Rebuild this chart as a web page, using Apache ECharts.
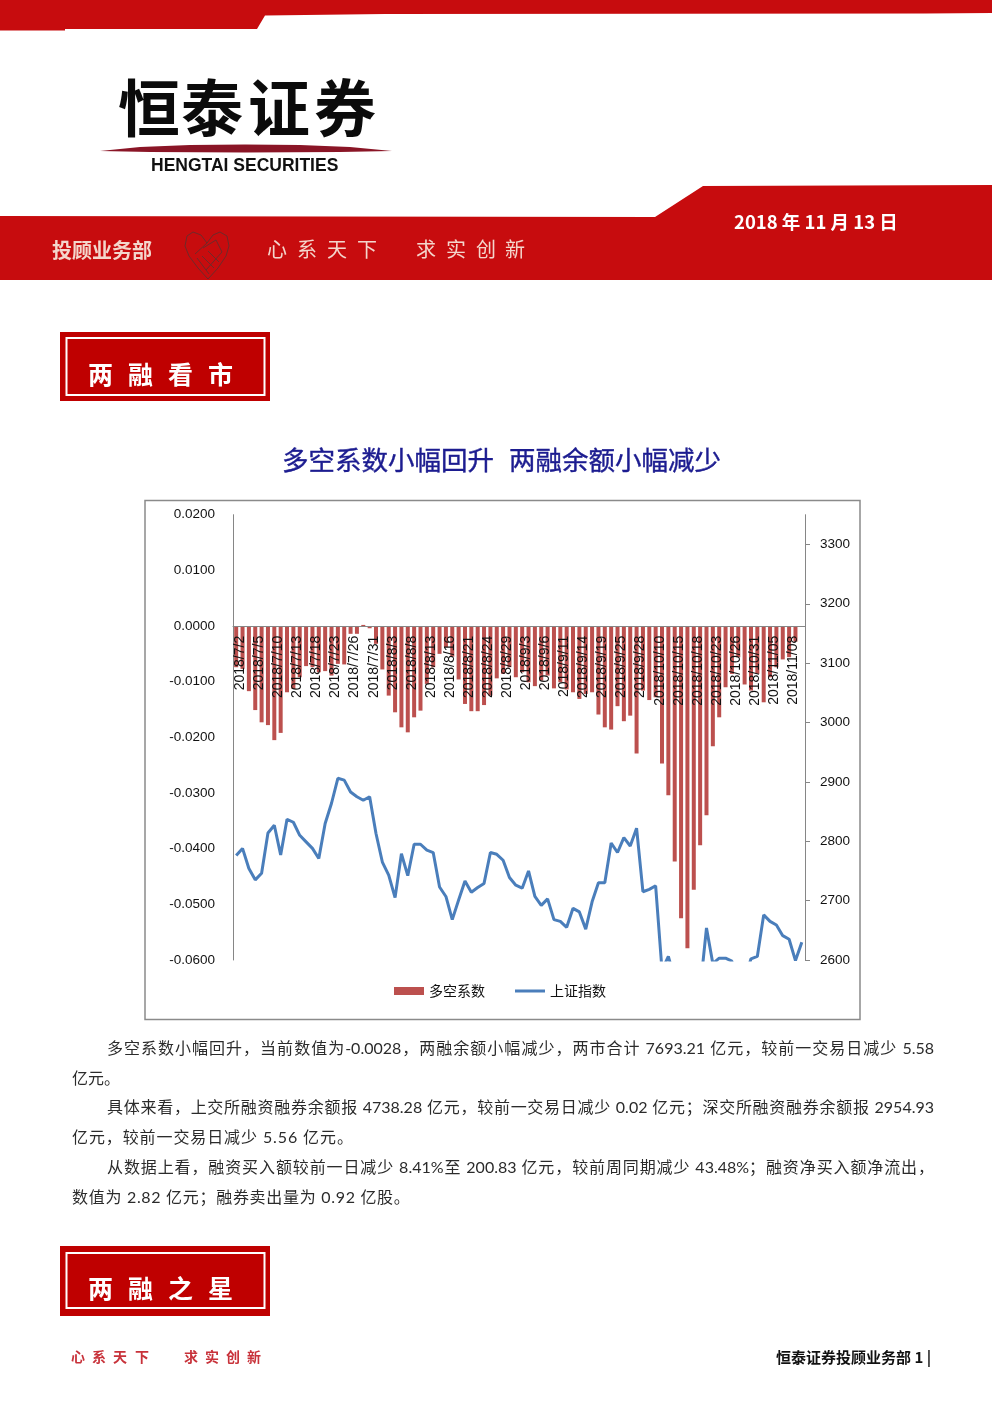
<!DOCTYPE html>
<html><head><meta charset="utf-8">
<script src="https://cdn.jsdelivr.net/npm/echarts@6/dist/echarts.min.js"></script>
<style>
html,body{margin:0;padding:0;background:#fff}
#page{position:relative;width:992px;height:1403px;overflow:hidden}
#chart{position:absolute;left:0;top:0;width:992px;height:1403px}
.ln{position:absolute;height:30px;line-height:30px;font-size:16px;color:#2b2b2b;white-space:nowrap;
font-family:Lato,"Noto Sans CJK SC",sans-serif}
.just{white-space:normal;text-align:justify;text-align-last:justify}
</style></head><body>
<div id="page"><div id="chart"></div>
<div class="ln just" style="left:107px;top:1033px;width:827px">多空系数小幅回升，当前数值为-0.0028，两融余额小幅减少，两市合计 7693.21 亿元，较前一交易日减少 5.58</div>
<div class="ln" style="left:72px;top:1063px">亿元。</div>
<div class="ln just" style="left:107px;top:1092px;width:827px">具体来看，上交所融资融券余额报 4738.28 亿元，较前一交易日减少 0.02 亿元；深交所融资融券余额报 2954.93</div>
<div class="ln" style="left:72px;top:1122px;letter-spacing:.9px">亿元，较前一交易日减少 5.56 亿元。</div>
<div class="ln just" style="left:107px;top:1152px;width:827px">从数据上看，融资买入额较前一日减少 8.41%至 200.83 亿元，较前周同期减少 43.48%；融资净买入额净流出，</div>
<div class="ln" style="left:72px;top:1182px;letter-spacing:.7px">数值为 2.82 亿元；融券卖出量为 0.92 亿股。</div>
</div>
<script>
const dates = ["2018/7/2","2018/7/3","2018/7/4","2018/7/5","2018/7/6","2018/7/9","2018/7/10","2018/7/11","2018/7/12","2018/7/13","2018/7/16","2018/7/17","2018/7/18","2018/7/19","2018/7/20","2018/7/23","2018/7/24","2018/7/25","2018/7/26","2018/7/27","2018/7/30","2018/7/31",
"2018/8/1","2018/8/2","2018/8/3","2018/8/6","2018/8/7","2018/8/8","2018/8/9","2018/8/10","2018/8/13","2018/8/14","2018/8/15","2018/8/16","2018/8/17","2018/8/20","2018/8/21","2018/8/22","2018/8/23","2018/8/24","2018/8/27","2018/8/28","2018/8/29","2018/8/30","2018/8/31",
"2018/9/3","2018/9/4","2018/9/5","2018/9/6","2018/9/7","2018/9/10","2018/9/11","2018/9/12","2018/9/13","2018/9/14","2018/9/17","2018/9/18","2018/9/19","2018/9/20","2018/9/21","2018/9/25","2018/9/26","2018/9/27","2018/9/28",
"2018/10/8","2018/10/9","2018/10/10","2018/10/11","2018/10/12","2018/10/15","2018/10/16","2018/10/17","2018/10/18","2018/10/19","2018/10/22","2018/10/23","2018/10/24","2018/10/25","2018/10/26","2018/10/29","2018/10/30","2018/10/31",
"2018/11/1","2018/11/2","2018/11/05","2018/11/6","2018/11/7","2018/11/08","2018/11/9","2018/11/12"];
const longShort = [-0.0074,-0.0077,-0.0117,-0.0151,-0.0173,-0.0178,-0.0205,-0.0192,-0.0119,-0.0113,-0.0092,-0.0072,-0.0074,-0.0083,-0.0081,-0.0089,-0.0068,-0.0069,-0.0014,-0.0014,0.0002,-0.0004,-0.0032,-0.0078,-0.0125,-0.0155,-0.0182,-0.0191,-0.0164,-0.0152,-0.0104,-0.0074,-0.0050,-0.0038,-0.0055,-0.0096,-0.0140,-0.0153,-0.0153,-0.0142,-0.0125,-0.0094,-0.0086,-0.0074,-0.0092,-0.0083,-0.0101,-0.0108,-0.0098,-0.0089,-0.0112,-0.0101,-0.0114,-0.0119,-0.0131,-0.0122,-0.0119,-0.0159,-0.0182,-0.0186,-0.0144,-0.0171,-0.0161,-0.0229,-0.0116,-0.0133,-0.0128,-0.0247,-0.0304,-0.0423,-0.0525,-0.0579,-0.0474,-0.0394,-0.0340,-0.0216,-0.0164,-0.0110,-0.0086,-0.0056,-0.0105,-0.0116,-0.0086,-0.0137,-0.0092,-0.0074,-0.0060,-0.0056,-0.0028,null];
const shIndex = [2776,2788,2754,2735,2746,2814,2827,2777,2837,2832,2810,2799,2788,2771,2830,2864,2906,2903,2883,2875,2869,2875,2813,2765,2743,2705,2779,2742,2795,2795,2785,2781,2723,2707,2668,2701,2733,2714,2722,2729,2781,2778,2768,2739,2726,2721,2750,2707,2692,2703,2668,2665,2655,2687,2681,2652,2698,2730,2730,2797,2781,2806,2792,2822,2715,2719,2725,2583,2606,2568,2546,2561,2486,2550,2654,2594,2603,2603,2598,2542,2568,2602,2606,2676,2665,2659,2641,2635,2599,2630];
const rightTicks = [2600,2700,2800,2900,3000,3100,3200,3300];
const seriesNames = ["多空系数","上证指数"];

const RED = "#c70c0e", CJK = '"Noto Sans CJK SC"';
const txt = (text,x,y,size,fill,weight,extra) => ({type:"text",x,y,silent:true,z:5,style:Object.assign({text,fill,font:`${weight||"normal"} ${size}px ${CJK}`,textAlign:"left",textVerticalAlign:"middle"},extra||{})});
const spaced = (chars,xs,y,size,fill,weight) => chars.map((c,i)=>txt(c,xs[i],y,size,fill,weight));
const box = (y0,y1,iy0,iy1,chars) => [
 {type:"rect",z:3,silent:true,shape:{x:60,y:y0,width:210,height:y1-y0},style:{fill:"#bf0000"}},
 {type:"rect",z:4,silent:true,shape:{x:66.5,y:iy0,width:198,height:iy1-iy0},style:{fill:"none",stroke:"#fff",lineWidth:2}},
 ...spaced(chars,[88,128,168,208],(iy0+iy1)/2+8,25,"#fff","bold")
];
const stroke = (points,color,w) => ({type:"polyline",silent:true,z:4,shape:{points},style:{fill:"none",stroke:color,lineWidth:w}});
const HEART = "#6e2a2a";
const graphics = [
 {type:"polygon",silent:true,shape:{points:[[0,0],[992,0],[992,13],[925,13.5],[385,14],[265,15.5],[257,29],[65,29],[65,30.5],[0,30.5]]},style:{fill:RED}},
 {type:"polygon",silent:true,shape:{points:[[0,216],[655,217],[703,186],[992,185],[992,280],[0,280]]},style:{fill:RED}},
 ...spaced(["恒","泰","证","券"],[118,181,248,314],108,62,"#0b0b0b","bold"),
 {type:"polygon",silent:true,shape:{points:[[100,151],[140,147],[190,145],[245,144.5],[300,145],[350,147],[392,151],[340,152],[245,152.5],[150,152]]},style:{fill:"#8a1526"}},
 {type:"text",x:151,y:166,silent:true,style:{text:"HENGTAI SECURITIES",fill:"#111",font:'bold 17.5px "Liberation Sans"',textVerticalAlign:"middle"}},
 txt("投顾业务部",52,250,20,"#f4d6cc","bold"),
 stroke([[207,243],[201,235],[193,232],[187,236],[185,246],[189,256],[198,268],[208,279],[218,268],[226,256],[229,246],[227,236],[220,232],[213,235],[207,243],[195,254]],HEART,1),
 stroke([[203,248],[216,240],[222,252],[206,270]],HEART,1),
 stroke([[197,258],[209,274]],HEART,1),stroke([[202,256],[214,268]],HEART,1),stroke([[208,251],[219,262]],HEART,1),
 ...spaced(["心","系","天","下"],[267,297,327,357],249,20,"#f4d6cc"),
 ...spaced(["求","实","创","新"],[416,446,476,505],249,20,"#f4d6cc"),
 txt("2018 年 11 月 13 日",734,222,18.5,"#fff","bold"),
 ...box(332,401,338,395,["两","融","看","市"]),
 txt("多空系数小幅回升",282,460,26.5,"#1c1c90","normal",{stroke:"#1c1c90",lineWidth:0.4}),
 txt("两融余额小幅减少",509,460,26.5,"#1c1c90","normal",{stroke:"#1c1c90",lineWidth:0.4}),
 {type:"rect",silent:true,shape:{x:145,y:500.5,width:715,height:519},style:{fill:"none",stroke:"#8a8a8a",lineWidth:1.5}},
 ...box(1246,1316,1253,1308,["两","融","之","星"]),
 ...spaced(["心","系","天","下"],[71,92,113,135],1357,14,"#c8323a","bold"),
 ...spaced(["求","实","创","新"],[184,205,226,247],1357,14,"#c8323a","bold"),
 txt("恒泰证券投顾业务部 1 |",776,1357,15,"#111","bold")
];
const axisFont = {color:"#111",fontSize:13.5,fontFamily:"Liberation Sans"};
const chart = echarts.init(document.getElementById("chart"),null,{width:992,height:1403});
chart.setOption({
 animation:false,
 backgroundColor:"#fff",
 grid:{left:233,right:187,top:514.7,bottom:443,containLabel:false},
 legend:{left:389,top:979,itemWidth:30,itemHeight:8,itemGap:30,
   data:[{name:seriesNames[0],icon:"rect"},{name:seriesNames[1],icon:"path://M0,0 L0,0 M0,8 L0,8 M0,2.5 H30 V5.5 H0 Z"}],
   textStyle:{color:"#111",fontSize:14,fontFamily:"Noto Sans CJK SC"}},
 graphic:{elements:graphics},
 xAxis:{type:"category",data:dates,z:4,boundaryGap:true,position:"bottom",offset:-334.2,
   axisLine:{onZero:false,lineStyle:{color:"#868686",width:1}},axisTick:{show:false},
   axisLabel:Object.assign({},axisFont,{fontSize:14,interval:2,rotate:90,margin:10,hideOverlap:false,verticalAlign:"top",lineHeight:8})},
 yAxis:[
  {type:"value",min:-0.06,max:0.02,interval:0.01,splitLine:{show:false},
   axisLine:{show:true,lineStyle:{color:"#868686"}},axisTick:{show:false},
   axisLabel:Object.assign({},axisFont,{margin:18,formatter:v=>v.toFixed(4)})},
  {type:"value",position:"right",min:2600,max:3350,interval:100,splitLine:{show:false},
   axisLine:{show:true,lineStyle:{color:"#868686"}},
   axisTick:{show:true,length:5,lineStyle:{color:"#868686"},customValues:rightTicks},
   axisLabel:Object.assign({},axisFont,{margin:15,customValues:rightTicks,formatter:v=>String(v)})}
 ],
 series:[
  {name:seriesNames[0],type:"bar",yAxisIndex:0,data:longShort,barWidth:4,itemStyle:{color:"#bc504e"}},
  {name:seriesNames[1],type:"line",yAxisIndex:1,data:shIndex,symbol:"none",smooth:false,clip:true,z:3,lineStyle:{color:"#4a7ebb",width:3},itemStyle:{color:"#4a7ebb"}}
 ]
});
</script></body></html>
